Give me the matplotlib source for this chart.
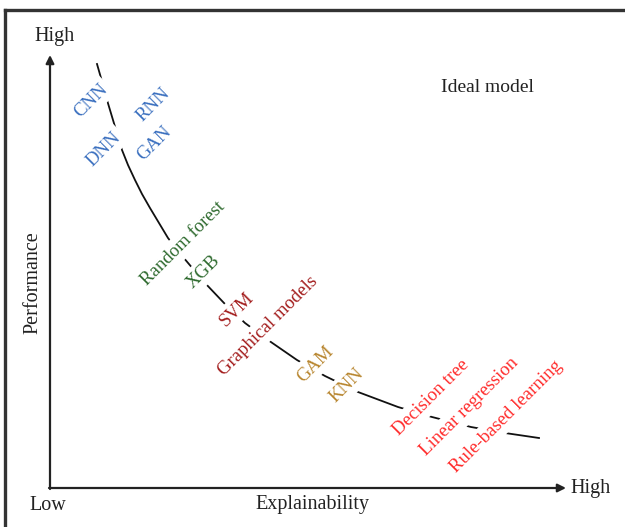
import matplotlib.pyplot as plt
from matplotlib.lines import Line2D

# model families along the trade-off curve
models = ["CNN", "RNN", "DNN", "GAN", "Random forest", "XGB", "SVM",
          "Graphical models", "GAM", "KNN", "Decision tree",
          "Linear regression", "Rule-based learning"]
groups = ["deep", "deep", "deep", "deep", "ensemble", "ensemble", "kernel",
          "kernel", "additive", "additive", "interpretable",
          "interpretable", "interpretable"]

# trade-off curve (pixel units, y grows downward)
curve_x = [97, 101, 107, 116, 122, 128, 135, 142, 150, 159, 168, 183, 205, 224, 245,
           268, 297, 325, 358, 398, 432, 471, 505, 539]
curve_y = [64, 78, 100, 130, 150, 165, 180, 194, 208, 223, 238, 257, 283, 303, 323,
           340, 360, 376, 392, 407, 417, 427, 433, 438]

group_colors = {"deep": "#3a6fbf", "ensemble": "#2e6a2e", "kernel": "#a31d1d",
                "additive": "#b8862f", "interpretable": "#ff2b2b"}

# label centres in pixels
label_pos = [(91, 101), (153, 105), (104, 149), (154, 143), (183, 244),
             (203, 272), (237, 309), (268, 326), (315, 364), (347, 385),
             (431, 398), (469, 407), (506, 417)]

fig = plt.figure(figsize=(6.25, 5.27), dpi=100)
ax = fig.add_axes([0, 0, 1, 1])
ax.set_xlim(0, 625)
ax.set_ylim(527, 0)
ax.axis('off')

font = 'Liberation Serif'

# outer frame (only top and left edges visible)
fig.add_artist(Line2D([5 / 625, 5 / 625], [0, 1 - 10 / 527], color='#333333', lw=2.4,
                      solid_capstyle='projecting'))
fig.add_artist(Line2D([5 / 625, 1], [1 - 10 / 527, 1 - 10 / 527], color='#333333', lw=2.4,
                      solid_capstyle='projecting'))

# axes arrows
arrow = dict(arrowstyle='-|>', lw=1.6, color='#222222', mutation_scale=12, shrinkA=0, shrinkB=0)
ax.annotate('', xy=(50, 55), xytext=(50, 489), arrowprops=arrow)
ax.annotate('', xy=(566, 488), xytext=(49, 488), arrowprops=arrow)

ax.text(55, 36, 'High', ha='center', va='center', fontsize=14.5, family=font, color='#222222')
ax.text(48, 505, 'Low', ha='center', va='center', fontsize=14.5, family=font, color='#222222')
ax.text(312, 505, 'Explainability', ha='center', va='center', fontsize=14.5, family=font, color='#222222')
ax.text(591, 488, 'High', ha='center', va='center', fontsize=14.5, family=font, color='#222222')
ax.text(33, 283, 'Performance', ha='center', va='center', rotation=90, fontsize=14.5,
        family=font, color='#222222')
ax.text(487, 87, 'Ideal model', ha='center', va='center', fontsize=14, family=font, color='#222222')

# curve
ax.plot(curve_x, curve_y, color='#111111', lw=1.3, zorder=1)

# labels sit on white boxes that cut the curve
for name, grp, (x, y) in zip(models, groups, label_pos):
    ax.text(x, y, name, ha='center', va='center', rotation=45, rotation_mode='anchor',
            fontsize=13.5, family=font, color=group_colors[grp], zorder=2,
            bbox=dict(boxstyle='square,pad=0.2', fc='white', ec='none'))

plt.savefig('out.png', dpi=100)
plt.close()
